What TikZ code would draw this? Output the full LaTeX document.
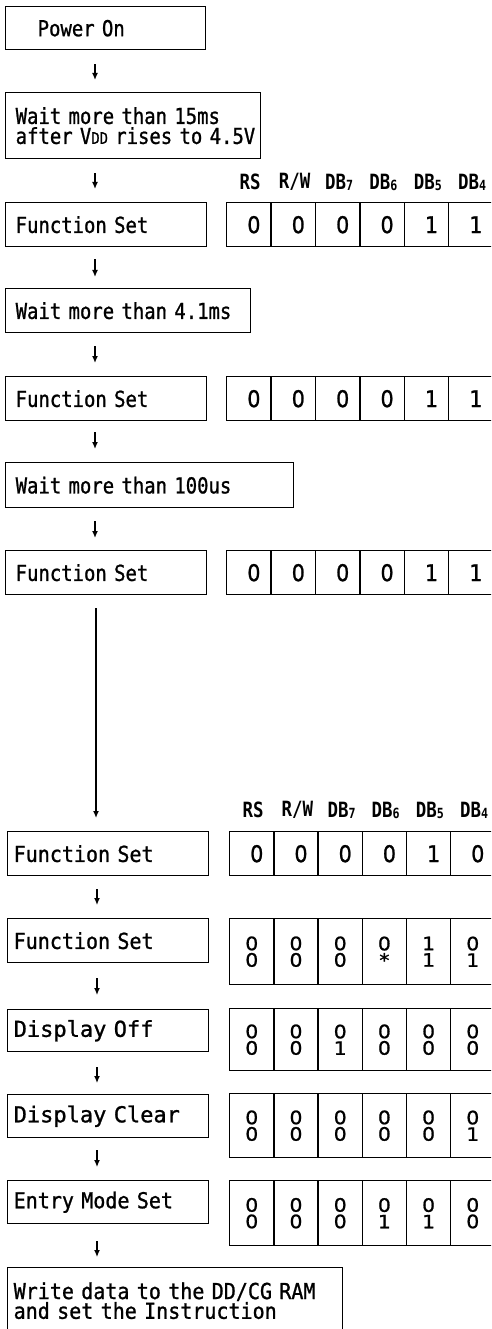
\documentclass[tikz,border=0pt]{standalone}
\usepackage{fontspec}
\newfontfamily\dsfont[FakeStretch=0.86,FakeBold=1]{DejaVu Sans Mono}
\newfontfamily\dslow[FakeStretch=0.91,FakeBold=1]{DejaVu Sans Mono}
\newfontfamily\dswide[FakeStretch=1.0,FakeBold=1]{DejaVu Sans Mono}
\newfontfamily\dshdr[FakeStretch=0.83]{DejaVu Sans Mono Bold}
\newfontfamily\dsdig[FakeStretch=0.9,FakeBold=1]{DejaVu Sans}
\newfontfamily\dsdigw[FakeStretch=1.1,FakeBold=1]{DejaVu Sans}
\usetikzlibrary{arrows.meta,calc}
\newcommand\smalldd[1]{{\fontsize{16}{16}\selectfont #1}}
\newcommand\subdig[1]{{\fontsize{14}{14}\selectfont\raisebox{-1pt}{#1}}}
% name, x, y, pitch, list
\newcommand\bitsone[5]{%
  \foreach \v [count=\k from 0] in {#5}{\node[cellone, minimum width=#4pt] (#1-\k) at ({#2+#4*\k},#3) {\hspace*{10pt}\v};}}
% name, x, y, height, list
\newcommand\bitstwo[5]{%
  \foreach \v [count=\k from 0] in {#5}{\node[celltwo, minimum height=#4pt] (#1-\k) at ({#2+44.2*\k},#3) {\v};}}
\newcommand\flow[4]{\draw[arr, shorten <=#3pt, shorten >=#4pt] ($(#1.south west)+(90,0)$) -- ($(#2.north west)+(90,0)$);}
\begin{document}
\begin{tikzpicture}[x=1pt,y=-1pt,
  box/.style={draw, line width=1.4pt, anchor=north west, inner xsep=10pt, inner ysep=0pt, align=left, font=\dsfont\fontsize{22}{18}\selectfont},
  lowbox/.style={box, inner xsep=6pt, font=\dslow\fontsize{22}{18}\selectfont},
  widebox/.style={box, inner xsep=6pt, font=\dswide\fontsize{22}{18}\selectfont},
  cellone/.style={draw, line width=1.4pt, anchor=north west, minimum height=44pt, inner sep=0pt, font=\dsdig\fontsize{23}{23}\selectfont},
  celltwo/.style={draw, line width=1.4pt, anchor=north west, minimum width=44.2pt, inner sep=0pt, align=center, font=\dsdigw\fontsize{18.5}{16.5}\selectfont},
  hdr/.style={inner sep=0pt, font=\dshdr\fontsize{21}{21}\selectfont},
  arr/.style={line width=1.3pt, -{Latex[length=7pt,width=6pt]}}]
\useasboundingbox (0,0) rectangle (491,1329);
\clip (0,0) rectangle (491,1329);
\fill[white] (0,0) rectangle (491,1329);

% left column, upper part
\node[box, text width=180pt, minimum height=43pt] (pw) at (5,6) {\hspace*{22pt}Power On};
\node[box, text width=235pt, minimum height=66pt] (w15) at (5,92) {\hbox{Wait more than 15ms}\\[2pt]\hbox{after V\smalldd{DD} rises to 4.5V}};
\node[box, text width=181pt, minimum height=44pt] (fs1) at (5,202) {Function Set};
\node[box, text width=225pt, minimum height=44pt] (w41) at (5,288) {Wait more than 4.1ms};
\node[box, text width=181pt, minimum height=44pt] (fs2) at (5,376) {Function Set};
\node[box, text width=268pt, minimum height=45pt] (w100) at (5,462) {Wait more than 100us};
\node[box, text width=181pt, minimum height=44pt] (fs3) at (5,550) {Function Set};

% left column, lower part
\node[lowbox, text width=189pt, minimum height=44pt] (fs4) at (7,831) {Function Set};
\node[lowbox, text width=189pt, minimum height=44pt] (fs5) at (7,918) {Function Set};
\node[widebox, text width=189pt, minimum height=42pt] (doff) at (7,1009) {Display Off};
\node[widebox, text width=189pt, minimum height=43pt] (dclr) at (7,1094) {Display Clear};
\node[lowbox, text width=189pt, minimum height=43pt] (emode) at (7,1180) {Entry Mode Set};
\node[lowbox, text width=323pt, minimum height=66pt] (wr) at (7,1267) {\hbox{Write data to the DD/CG RAM}\\\hbox{and set the Instruction}};

% headers
\foreach \t [count=\k from 0] in {RS,R/W,DB\subdig{7},DB\subdig{6},DB\subdig{5},DB\subdig{4}}
  \node[hdr] (ha-\k) at ({226+22.2+44.4*\k+2},182) {\t};
\foreach \t [count=\k from 0] in {RS,R/W,DB\subdig{7},DB\subdig{6},DB\subdig{5},DB\subdig{4}}
  \node[hdr] (hb-\k) at ({229+22.1+44.2*\k+2},810) {\t};

% bit boxes
\bitsone{ba}{226}{202}{44.4}{0,0,0,0,1,1}
\bitsone{bb}{226}{376}{44.4}{0,0,0,0,1,1}
\bitsone{bc}{226}{550}{44.4}{0,0,0,0,1,1}
\bitsone{bd}{229}{831}{44.2}{0,0,0,0,1,0}
\bitstwo{be}{229}{918}{66}{{0\\0},{0\\0},{0\\0},{0\\*},{1\\1},{0\\1}}
\bitstwo{bf}{229}{1008}{62}{{0\\0},{0\\0},{0\\1},{0\\0},{0\\0},{0\\0}}
\bitstwo{bg}{229}{1093}{64}{{0\\0},{0\\0},{0\\0},{0\\0},{0\\0},{0\\1}}
\bitstwo{bh}{229}{1180}{65}{{0\\0},{0\\0},{0\\0},{0\\1},{0\\1},{0\\0}}

% flow arrows
\flow{pw}{w15}{14}{12}
\flow{w15}{fs1}{14}{13}
\flow{fs1}{w41}{12}{11}
\flow{w41}{fs2}{13}{13}
\flow{fs2}{w100}{11}{13}
\flow{w100}{fs3}{13}{12}
\coordinate (lt) at ($(fs3.south west)+(91,0)$);
\draw[arr, shorten <=13pt, shorten >=13pt] (lt) -- (lt |- fs4.north);
\flow{fs4}{fs5}{13}{13}
\flow{fs5}{doff}{15}{14}
\flow{doff}{dclr}{15}{11}
\flow{dclr}{emode}{12}{13}
\flow{emode}{wr}{17}{10}
\end{tikzpicture}
\end{document}
